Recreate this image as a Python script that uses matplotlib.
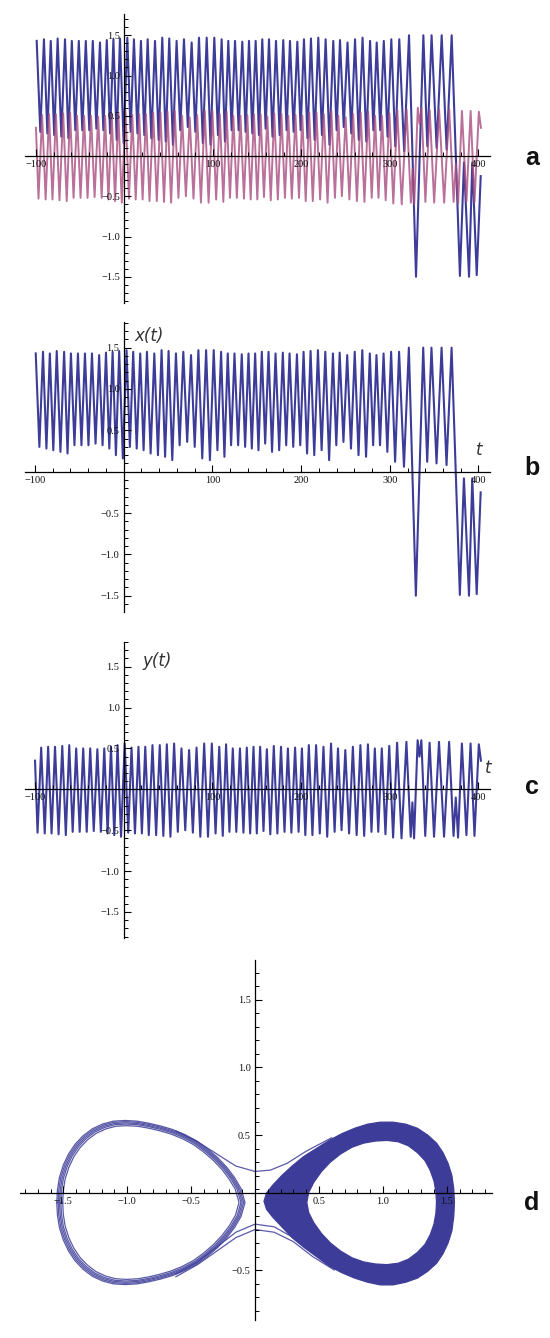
import matplotlib
matplotlib.use('Agg')
import matplotlib.pyplot as plt
from matplotlib.ticker import FixedLocator, MultipleLocator, FuncFormatter
import numpy as np

W, H = 550, 1338

# ---- time series, regular part (x stays in the right well) ----
# one entry per oscillation: time of each maximum of x, its value,
# the following minimum of x, and the extremes of y = dx/dt in between
peak_t = [-99.2, -91, -83.3, -75.5, -67.2, -59.5, -51.6, -43.7, -35.8, -27.7,
          -20, -12.5, -5.1, 3.2, 10.7, 18.6, 26.2, 34.5, 42.7, 50.6,
          58.9, 67.2, 75.9, 84.2, 92.9, 101.5, 109.8, 117.3, 124.9, 133.1,
          140.7, 148.2, 155.7, 163.3, 171.2, 179.4, 187, 195.3, 202.8, 210.7,
          219, 227.3, 235.9, 243.5, 252, 260.5, 269, 277.5, 285, 293,
          301.5, 310.5, 321.5]
peak_x = [1.43, 1.45, 1.43, 1.46, 1.45, 1.43, 1.43, 1.43, 1.43, 1.41,
          1.44, 1.45, 1.46, 1.47, 1.45, 1.43, 1.45, 1.43, 1.47, 1.46,
          1.43, 1.45, 1.41, 1.47, 1.47, 1.47, 1.45, 1.43, 1.43, 1.42,
          1.43, 1.43, 1.45, 1.45, 1.43, 1.44, 1.43, 1.42, 1.45, 1.46,
          1.47, 1.45, 1.43, 1.44, 1.41, 1.45, 1.47, 1.43, 1.41, 1.43,
          1.45, 1.45, 1.50]
trough_x = [0.30, 0.28, 0.26, 0.24, 0.22, 0.32, 0.32, 0.32, 0.34, 0.32,
            0.28, 0.20, 0.16, 0.30, 0.28, 0.26, 0.22, 0.20, 0.18, 0.14,
            0.32, 0.36, 0.30, 0.16, 0.14, 0.26, 0.18, 0.32, 0.32, 0.30,
            0.28, 0.26, 0.34, 0.24, 0.26, 0.32, 0.30, 0.32, 0.22, 0.20,
            0.26, 0.14, 0.32, 0.36, 0.28, 0.20, 0.18, 0.32, 0.32, 0.24,
            0.12, 0.06]
vel_max = [0.51, 0.52, 0.52, 0.53, 0.54, 0.50, 0.50, 0.50, 0.49, 0.50,
           0.52, 0.54, 0.56, 0.51, 0.52, 0.52, 0.54, 0.54, 0.55, 0.56,
           0.50, 0.48, 0.51, 0.56, 0.56, 0.52, 0.55, 0.50, 0.50, 0.51,
           0.52, 0.52, 0.49, 0.53, 0.52, 0.50, 0.51, 0.50, 0.54, 0.54,
           0.52, 0.56, 0.50, 0.48, 0.52, 0.54, 0.55, 0.50, 0.50, 0.53,
           0.57, 0.58]
vel_min = [-0.53, -0.54, -0.54, -0.55, -0.56, -0.52, -0.52, -0.52, -0.51, -0.52,
           -0.54, -0.56, -0.58, -0.53, -0.54, -0.54, -0.56, -0.56, -0.57, -0.58,
           -0.52, -0.50, -0.53, -0.58, -0.58, -0.54, -0.57, -0.52, -0.52, -0.53,
           -0.54, -0.54, -0.51, -0.55, -0.54, -0.52, -0.53, -0.52, -0.56, -0.56,
           -0.54, -0.58, -0.52, -0.50, -0.54, -0.56, -0.57, -0.52, -0.52, -0.55,
           -0.59, -0.60]

# ---- turning points after the first jump into the left well ----
tail_tx = [329.4, 337.7, 342.2, 347.0, 352.7, 358.4, 364.0, 369.7, 379.0, 383.6,
           389.3, 393.0, 398.0, 402.5]
tail_x = [-1.50, 1.50, 0.12, 1.50, 0.10, 1.50, 0.08, 1.50, -1.49, -0.08,
          -1.50, -0.08, -1.48, -0.25]
tail_ty = [323.6, 325.5, 327.4, 331.4, 333.5, 335.6, 340.0, 344.9, 349.9, 355.5,
           361.2, 366.9, 371.9, 374.4, 377.0, 381.3, 386.4, 391.1, 395.5, 400.4,
           402.8]
tail_y = [-0.58, -0.16, -0.60, 0.60, 0.40, 0.60, -0.57, 0.57, -0.58, 0.58,
          -0.58, 0.58, -0.57, -0.10, -0.59, 0.56, -0.56, 0.56, -0.57, 0.55,
          0.35]

# ---- phase portrait (x, y) ----
right_outer_x = [1.56, 1.555, 1.54, 1.51, 1.47, 1.42, 1.35, 1.27, 1.18, 1.08,
                 0.98, 0.88, 0.78, 0.68, 0.58, 0.48, 0.38, 0.29, 0.21, 0.14,
                 0.09, 0.07, 0.09, 0.14, 0.21, 0.29, 0.38, 0.48, 0.58, 0.68,
                 0.78, 0.88, 0.98, 1.08, 1.18, 1.27, 1.35, 1.42, 1.47, 1.51,
                 1.54, 1.555, 1.56]
right_outer_y = [0.0, 0.10, 0.20, 0.29, 0.37, 0.44, 0.50, 0.55, 0.58, 0.595,
                 0.595, 0.58, 0.55, 0.51, 0.46, 0.40, 0.34, 0.27, 0.20, 0.13,
                 0.07, 0.01, -0.05, -0.11, -0.18, -0.26, -0.33, -0.40, -0.47, -0.52,
                 -0.56, -0.59, -0.61, -0.61, -0.59, -0.56, -0.51, -0.45, -0.38, -0.30,
                 -0.21, -0.10, 0.0]
right_inner_x = [1.42, 1.415, 1.40, 1.37, 1.33, 1.27, 1.20, 1.12, 1.03, 0.94,
                 0.85, 0.76, 0.67, 0.59, 0.52, 0.46, 0.42, 0.405, 0.42, 0.46,
                 0.52, 0.59, 0.67, 0.76, 0.85, 0.94, 1.03, 1.12, 1.20, 1.27,
                 1.33, 1.37, 1.40, 1.415, 1.42]
right_inner_y = [0.0, 0.08, 0.16, 0.24, 0.31, 0.37, 0.42, 0.45, 0.46, 0.455,
                 0.44, 0.41, 0.36, 0.30, 0.23, 0.15, 0.075, 0.0, -0.075, -0.15,
                 -0.23, -0.30, -0.36, -0.41, -0.44, -0.455, -0.46, -0.45, -0.42, -0.37,
                 -0.31, -0.24, -0.16, -0.08, 0.0]
left_loop_x = [-1.53, -1.525, -1.51, -1.48, -1.44, -1.39, -1.33, -1.26, -1.18, -1.10,
               -1.01, -0.92, -0.83, -0.74, -0.65, -0.56, -0.47, -0.39, -0.31, -0.24,
               -0.18, -0.13, -0.10,
               -0.13, -0.18, -0.24, -0.31, -0.39, -0.47, -0.56, -0.65, -0.74, -0.83,
               -0.92, -1.01, -1.10, -1.18, -1.26, -1.33, -1.39, -1.44, -1.48, -1.51,
               -1.525, -1.53]
left_loop_y = [0.0, 0.09, 0.18, 0.27, 0.35, 0.42, 0.48, 0.53, 0.565, 0.585,
               0.59, 0.585, 0.57, 0.55, 0.525, 0.49, 0.445, 0.39, 0.325, 0.255,
               0.18, 0.10, 0.0,
               -0.10, -0.18, -0.255, -0.325, -0.39, -0.445, -0.49, -0.525, -0.55, -0.57,
               -0.585, -0.59, -0.585, -0.565, -0.53, -0.48, -0.42, -0.35, -0.27, -0.18,
               -0.09, 0.0]
left_loop_scale = [0.965, 0.985, 1.0, 1.015, 1.03]
left_center = -0.82
cross_up_x = [-0.62, -0.45, -0.30, -0.15, 0.0, 0.12, 0.25, 0.40, 0.60]
cross_up_y = [0.53, 0.45, 0.36, 0.27, 0.23, 0.24, 0.29, 0.38, 0.48]
cross_lo_x = [-0.62, -0.45, -0.30, -0.15, 0.0, 0.15, 0.30, 0.45, 0.62]
cross_lo1_y = [-0.53, -0.44, -0.33, -0.22, -0.16, -0.18, -0.26, -0.37, -0.48]
cross_lo2_y = [-0.55, -0.46, -0.36, -0.26, -0.20, -0.22, -0.29, -0.40, -0.50]

BLUE = '#3d3d99'
PINK = '#a84c80'
TICKFONT = dict(family='Liberation Serif', size=7.5, color='#111111')


def build_series():
    """ turn the per-cycle tables into turning-point polylines """
    tx, vx, ty, vy = [], [], [-100.0], [0.35]
    for k in range(len(peak_t)):
        tx.append(peak_t[k])
        vx.append(peak_x[k])
        if k < len(trough_x):
            d = peak_t[k + 1] - peak_t[k]
            tx.append(peak_t[k] + 0.5 * d)
            vx.append(trough_x[k])
            ty += [peak_t[k] + 0.25 * d, peak_t[k] + 0.75 * d]
            vy += [vel_min[k], vel_max[k]]
    return (np.array(tx + tail_tx), np.array(vx + tail_x),
            np.array(ty + tail_ty), np.array(vy + tail_y))


def add_axes_px(fig, left, top, right, bottom):
    return fig.add_axes([left / W, 1 - bottom / H, (right - left) / W, (bottom - top) / H])


def fmt_num(v, pos=None):
    s = '%g' % v if abs(v) >= 10 else '%.1f' % v
    return s.replace('-', '\u2212')


def format_axis(ax, xmaj, xminor, ymaj, yminor, xcross=0.0, ycross=0.0):
    for loc in ['top', 'right']:
        ax.spines[loc].set_visible(False)
    ax.spines['left'].set_position(('data', xcross))
    ax.spines['bottom'].set_position(('data', ycross))
    for loc in ['left', 'bottom']:
        ax.spines[loc].set_linewidth(0.9)
    ax.patch.set_alpha(0)
    ax.set_axisbelow(False)
    ax.xaxis.set_major_locator(FixedLocator(xmaj))
    ax.xaxis.set_minor_locator(MultipleLocator(xminor))
    ax.yaxis.set_major_locator(FixedLocator(ymaj))
    ax.yaxis.set_minor_locator(MultipleLocator(yminor))
    ax.xaxis.set_major_formatter(FuncFormatter(fmt_num))
    ax.yaxis.set_major_formatter(FuncFormatter(fmt_num))
    ax.tick_params(which='major', direction='in', length=5, width=0.8, pad=3)
    ax.tick_params(which='minor', direction='in', length=2.8, width=0.7)
    for lab in ax.get_xticklabels() + ax.get_yticklabels():
        lab.set_fontfamily(TICKFONT['family'])
        lab.set_fontsize(TICKFONT['size'])
        lab.set_color(TICKFONT['color'])


def time_panel(fig, top, bottom, y0, scale, tlo):
    ax = add_axes_px(fig, 25, top, 490, bottom)
    ax.set_xlim(tlo, 413)
    ax.set_ylim((y0 - bottom) / scale, (y0 - top) / scale)
    format_axis(ax, [-100, 100, 200, 300, 400], 20,
                [-1.5, -1.0, -0.5, 0.5, 1.0, 1.5], 0.1)
    return ax


fig = plt.figure(figsize=(W / 100, H / 100), dpi=100)
tx, vx, ty, vy = build_series()

# a: both coordinates
ax = time_panel(fig, 14, 303, 156, 80.5, -112.4)
ax.plot(tx, vx, c=BLUE, lw=1.5)
ax.plot(ty, vy, c=PINK, lw=1.4, alpha=0.8)

# b: x(t)
ax = time_panel(fig, 322, 612, 471.7, 82.7, -111.3)
ax.plot(tx, vx, c=BLUE, lw=1.5)

# c: y(t)
ax = time_panel(fig, 642, 938, 789.3, 81.8, -111.3)
ax.plot(ty, vy, c=BLUE, lw=1.5)

# d: phase portrait
ax = add_axes_px(fig, 20, 960, 492, 1320)
ax.set_xlim(-1.839, 1.854)
ax.set_ylim(-0.87, 1.796)
format_axis(ax, [-1.5, -1.0, -0.5, 0.5, 1.0, 1.5], 0.1,
            [-0.5, 0.5, 1.0, 1.5], 0.1, ycross=0.07)
ax.fill(right_outer_x, right_outer_y, color=BLUE, lw=0, zorder=1)
ax.fill(right_inner_x, right_inner_y, color='white', lw=0, zorder=1.1)
ax.plot(right_outer_x, right_outer_y, c=BLUE, lw=0.9, zorder=1.2)
ax.plot(right_inner_x, right_inner_y, c=BLUE, lw=0.9, zorder=1.2)
lx, ly = np.array(left_loop_x), np.array(left_loop_y)
for s in left_loop_scale:
    ax.plot(left_center + (lx - left_center) * s, ly * s, c=BLUE, lw=0.9, alpha=0.85)
ax.plot(cross_up_x, cross_up_y, c=BLUE, lw=0.9, alpha=0.85)
ax.plot(cross_lo_x, cross_lo1_y, c=BLUE, lw=0.9, alpha=0.85)
ax.plot(cross_lo_x, cross_lo2_y, c=BLUE, lw=0.9, alpha=0.85)

# axis names and panel letters
lab = dict(family='DejaVu Sans', style='italic', size=12, color='#333333')
fig.text(134 / W, 1 - 336 / H, 'x(t)', va='center', ha='left', **lab)
fig.text(142 / W, 1 - 661 / H, 'y(t)', va='center', ha='left', **lab)
fig.text(476 / W, 1 - 450 / H, 't', va='center', ha='left', **lab)
fig.text(485 / W, 1 - 768 / H, 't', va='center', ha='left', **lab)
for letter, ypx in zip('abcd', [158, 468, 787, 1203]):
    fig.text(532 / W, 1 - ypx / H, letter, ha='center', va='center',
             family='Liberation Sans', weight='bold', size=18, color='#111111')

fig.savefig('out.png', dpi=100, facecolor='white')
